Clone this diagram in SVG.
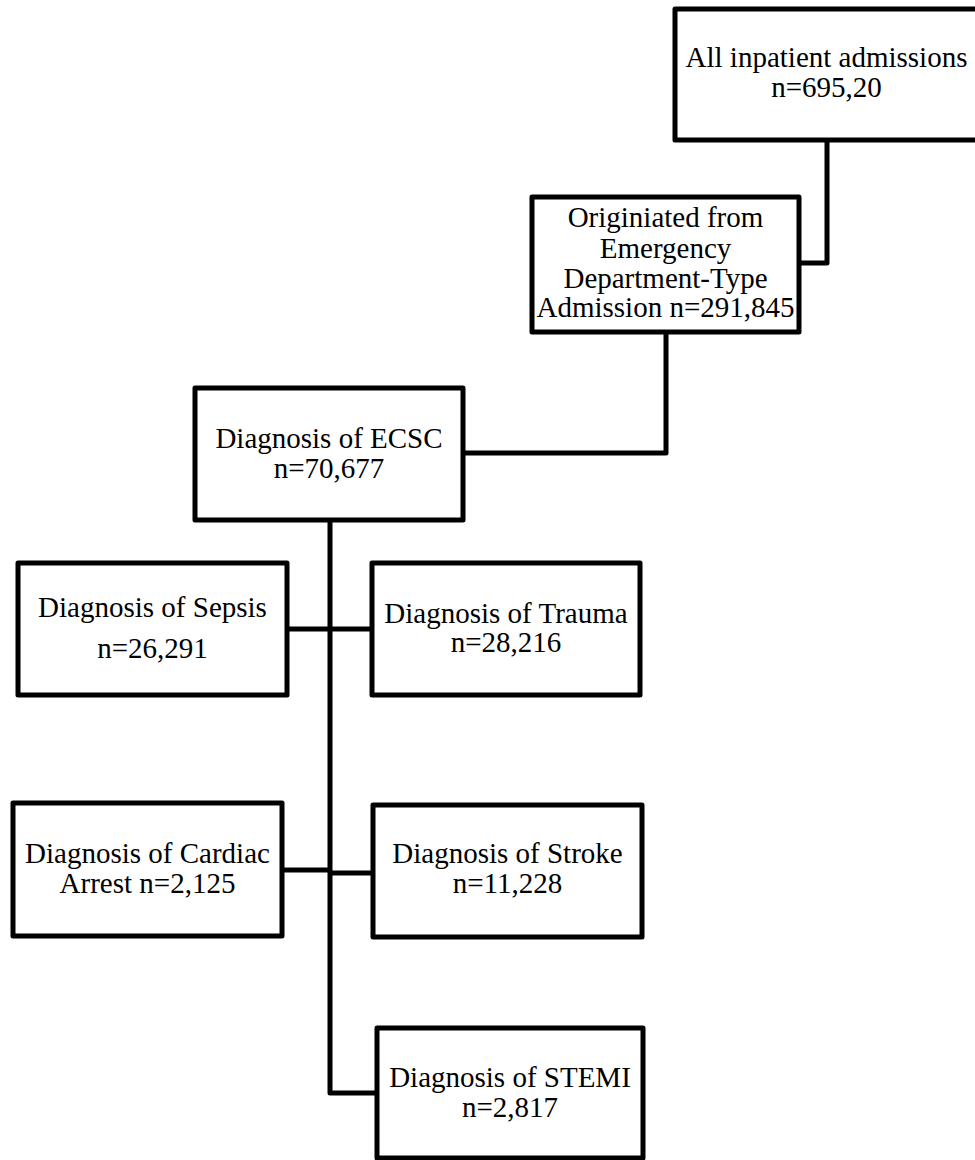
<svg xmlns="http://www.w3.org/2000/svg" width="975" height="1160" viewBox="0 0 975 1160">
<style>
.box{fill:#fff;stroke:#000;stroke-width:5;stroke-linejoin:round}
.line{fill:none;stroke:#000;stroke-width:5;stroke-linejoin:round}
text{font-family:"Liberation Serif","Times New Roman",serif;font-size:29px;fill:#000;text-anchor:middle}
</style>
<rect width="975" height="1160" fill="#fff"/>
<g id="connectors">
<polyline class="line" points="827,140 827,263 800,263"/>
<polyline class="line" points="666,332 666,453 463,453"/>
<polyline class="line" points="330,520 330,1093 377,1093"/>
<line class="line" x1="287" y1="629" x2="372" y2="629"/>
<line class="line" x1="282" y1="870" x2="330" y2="870"/>
<line class="line" x1="330" y1="873" x2="373" y2="873"/>
</g>
<g id="all">
<rect class="box" x="675" y="9" width="303" height="131"/>
<text x="826.5" y="67">All inpatient admissions</text>
<text x="826.5" y="97">n=695,20</text>
</g>
<g id="ed">
<rect class="box" x="532" y="197" width="267" height="135"/>
<text x="665.5" y="227">Originiated from</text>
<text x="665.5" y="258">Emergency</text>
<text x="665.5" y="288">Department-Type</text>
<text x="665.5" y="317">Admission n=291,845</text>
</g>
<g id="ecsc">
<rect class="box" x="195" y="388" width="268" height="132"/>
<text x="329" y="448">Diagnosis of ECSC</text>
<text x="329" y="478">n=70,677</text>
</g>
<g id="sepsis">
<rect class="box" x="18" y="563" width="269" height="132"/>
<text x="152.5" y="617">Diagnosis of Sepsis</text>
<text x="152.5" y="658">n=26,291</text>
</g>
<g id="trauma">
<rect class="box" x="372" y="563" width="268" height="132"/>
<text x="506" y="623">Diagnosis of Trauma</text>
<text x="506" y="652">n=28,216</text>
</g>
<g id="cardiac">
<rect class="box" x="13" y="803" width="269" height="133"/>
<text x="147.5" y="863">Diagnosis of Cardiac</text>
<text x="147.5" y="893">Arrest n=2,125</text>
</g>
<g id="stroke">
<rect class="box" x="373" y="805" width="269" height="132"/>
<text x="507.5" y="863">Diagnosis of Stroke</text>
<text x="507.5" y="893">n=11,228</text>
</g>
<g id="stemi">
<rect class="box" x="377" y="1028" width="266" height="130"/>
<text x="510" y="1087">Diagnosis of STEMI</text>
<text x="510" y="1117">n=2,817</text>
</g>
</svg>
